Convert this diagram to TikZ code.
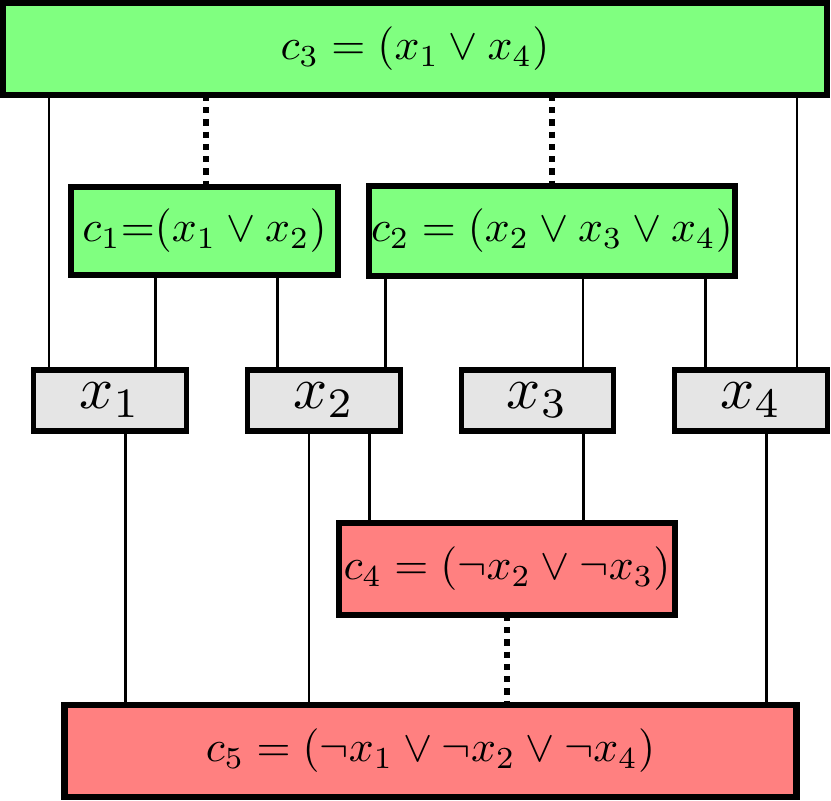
\documentclass[tikz,border=0pt]{standalone}
\newdimen\pxu
\pxu=0.2288pt
\newcommand{\varlabel}[1]{\scalebox{1.37}{$#1$}}
\tikzset{
  clause/.style={draw=black, line width=1.45pt, inner sep=0pt, outer sep=0pt},
  sat/.style={clause, fill=green!50},
  unsat/.style={clause, fill=red!50},
  varbox/.style={draw=black, line width=1.15pt, fill=gray!20, inner sep=0pt, outer sep=0pt,
    minimum width=152.5\pxu, minimum height=61\pxu},
  link/.style={line width=0.55pt},
  dotlink/.style={line width=1.4pt, dash pattern=on 1.4pt off 1.4pt}
}
\begin{document}
\begin{tikzpicture}[x=0.2288pt, y=-0.2288pt]
\useasboundingbox (0,0) rectangle (831,801);
\node[sat, minimum width=824\pxu, minimum height=92\pxu] (c3) at (415,49) {$c_3 = (x_1 \vee x_4)$};
\node[sat, minimum width=267\pxu, minimum height=88\pxu] (c1) at (204.5,231) {$c_1{=}(x_1 \vee x_2)$};
\node[sat, minimum width=366\pxu, minimum height=90\pxu] (c2) at (552,231) {$c_2 = (x_2 \vee x_3 \vee x_4)$};
\node[varbox] (x1) at (110,400.5) {\varlabel{x_1}};
\node[varbox] (x2) at (324,400.5) {\varlabel{x_2}};
\node[varbox] (x3) at (537.5,400.5) {\varlabel{x_3}};
\node[varbox] (x4) at (751,400.5) {\varlabel{x_4}};
\node[unsat, minimum width=336\pxu, minimum height=92\pxu] (c4) at (507,569) {$c_4 = (\neg x_2 \vee \neg x_3)$};
\node[unsat, minimum width=732\pxu, minimum height=91.5\pxu] (c5) at (430.5,751) {$c_5 = (\neg x_1 \vee \neg x_2 \vee \neg x_4)$};
% c3 links
\draw[link] (c3.south -| 49,0) -- (x1.north -| 49,0);
\draw[link] (c3.south -| 797,0) -- (x4.north -| 797,0);
\draw[dotlink] (c3.south -| 206,0) -- (c1.north -| 206,0);
\draw[dotlink] (c3.south -| 552,0) -- (c2.north -| 552,0);
% c1 links
\draw[link] (c1.south -| 155.7,0) -- (x1.north -| 155.7,0);
\draw[link] (c1.south -| 277.7,0) -- (x2.north -| 277.7,0);
% c2 links
\draw[link] (c2.south -| 385.7,0) -- (x2.north -| 385.7,0);
\draw[link] (c2.south -| 583,0) -- (x3.north -| 583,0);
\draw[link] (c2.south -| 705.5,0) -- (x4.north -| 705.5,0);
% c4 links
\draw[link] (x2.south -| 369.5,0) -- (c4.north -| 369.5,0);
\draw[link] (x3.south -| 583.3,0) -- (c4.north -| 583.3,0);
\draw[dotlink] (c4.south -| 507.3,0) -- (c5.north -| 507.3,0);
% c5 links
\draw[link] (x1.south -| 125.7,0) -- (c5.north -| 125.7,0);
\draw[link] (x2.south -| 309,0) -- (c5.north -| 309,0);
\draw[link] (x4.south -| 766.7,0) -- (c5.north -| 766.7,0);
\end{tikzpicture}
\end{document}
